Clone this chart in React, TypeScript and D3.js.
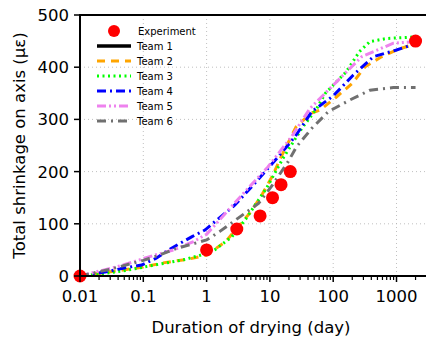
import React from "react";
import * as d3 from "d3";

const experiment: [number, number][] = [[0.01,0],[1,50],[3,90],[7,115],[11,150],[15,175],[21,200],[2000,450]];
const team1: [number, number][] = [];
const team2: [number, number][] = [[0.01,0],[0.03,8],[0.1,17],[0.2,25],[0.5,32],[1,40],[2,66],[5,123],[7.6,157],[11,192],[15,228],[26,286],[45,312],[62,318],[110,342],[200,369],[320,401],[580,420],[1000,433],[2000,445]];
const team3: [number, number][] = [[0.01,0],[0.025,5],[0.055,11],[0.15,21],[0.43,31],[1,43],[1.34,50],[2.5,75],[4.2,110],[9,170],[16,225],[32,283],[55,321],[75,350],[160,391],[260,430],[380,449],[700,455],[2000,458]];
const team4: [number, number][] = [[0.01,0],[0.026,8],[0.048,15],[0.094,21],[0.16,34],[0.25,50],[0.58,75],[0.94,88],[2.8,136],[5.8,178],[12.8,225],[25,267],[46,315],[100,345],[208,385],[430,420],[1000,433],[2000,445]];
const team5: [number, number][] = [[0.01,0],[0.048,21],[0.15,40],[0.3,50],[0.62,66],[1,80],[3.8,158],[9.3,209],[22,267],[43,321],[113,372],[282,420],[890,446],[2000,449]];
const team6: [number, number][] = [[0.01,0],[0.03,13],[0.1,30],[0.18,40],[0.34,53],[1,69],[1.6,85],[6.6,139],[10.5,171],[19.4,219],[26.5,248],[46,283],[84,315],[182,337],[381,356],[890,361],[2000,361]];

const xTicks = [0.01, 0.1, 1, 10, 100, 1000];
const xTickLabels = ["0.01", "0.1", "1", "10", "100", "1000"];
const yTicks = [0, 100, 200, 300, 400, 500];

const series = [
  { name: "Team 1", data: team1, color: "#000000", dash: "none" },
  { name: "Team 2", data: team2, color: "#ffa500", dash: "8,6" },
  { name: "Team 3", data: team3, color: "#00ff00", dash: "2,3.5" },
  { name: "Team 4", data: team4, color: "#0000ff", dash: "9,4,2,4" },
  { name: "Team 5", data: team5, color: "#ee82ee", dash: "9,3,2,3,2,3" },
  { name: "Team 6", data: team6, color: "#707070", dash: "9,5,2,5" },
];

export default function App() {
  const W = 426, H = 338;
  const left = 80, top = 15, bottom = 276;
  const x = d3.scaleLog().domain([0.01, 1000]).range([left, 396.5]);
  const y = d3.scaleLinear().domain([0, 500]).range([bottom, top]);
  const line = d3.line<[number, number]>().x(d => x(d[0])).y(d => y(d[1]));
  const minor: number[] = [];
  for (let e = -2; e <= 3; e++) for (let k = 2; k <= 9; k++) minor.push(k * Math.pow(10, e));
  const font = "DejaVu Sans, sans-serif";
  return (
    <svg width={W} height={H} style={{ position: "absolute", left: 0, top: 0, fontFamily: font }}>
      <rect width={W} height={H} fill="white" />
      <defs>
        <clipPath id="plot"><rect x={left} y={top} width={W - left} height={bottom - top} /></clipPath>
      </defs>
      {xTicks.slice(1).map(t => (
        <line key={"gx" + t} x1={x(t)} x2={x(t)} y1={top} y2={bottom} stroke="#b0b0b0" strokeWidth={0.8} strokeDasharray="1,3" />
      ))}
      {yTicks.slice(1, -1).map(t => (
        <line key={"gy" + t} x1={left} x2={W} y1={y(t)} y2={y(t)} stroke="#b0b0b0" strokeWidth={0.8} strokeDasharray="1,3" />
      ))}
      <g clipPath="url(#plot)">
        {series.filter(s => s.data.length).map(s => (
          <path key={s.name} d={line(s.data) || ""} fill="none" stroke={s.color} strokeWidth={3} strokeDasharray={s.dash} />
        ))}
      </g>
      {experiment.map((d, i) => (
        <circle key={"e" + i} cx={x(d[0])} cy={y(d[1])} r={6.5} fill="#ff0000" />
      ))}
      <line x1={left} x2={W} y1={top} y2={top} stroke="#000" strokeWidth={2} />
      <line x1={left} x2={left} y1={top - 1} y2={bottom + 1} stroke="#000" strokeWidth={2} />
      <line x1={left - 1} x2={W} y1={bottom} y2={bottom} stroke="#000" strokeWidth={2} />
      {xTicks.map((t, i) => (
        <g key={"xt" + t}>
          <line x1={x(t)} x2={x(t)} y1={bottom} y2={bottom + 6} stroke="#000" strokeWidth={1.5} />
          <text x={x(t)} y={bottom + 26} textAnchor="middle" fontSize={16.5}>{xTickLabels[i]}</text>
        </g>
      ))}
      {minor.filter(m => x(m) < W).map(m => (
        <line key={"mt" + m} x1={x(m)} x2={x(m)} y1={bottom} y2={bottom + 4} stroke="#000" strokeWidth={1.2} />
      ))}
      {yTicks.map(t => (
        <g key={"yt" + t}>
          <line x1={left} x2={left - 6} y1={y(t)} y2={y(t)} stroke="#000" strokeWidth={1.5} />
          <text x={left - 11} y={y(t) + 6} textAnchor="end" fontSize={16.5}>{t}</text>
        </g>
      ))}
      <text x={251} y={333} textAnchor="middle" fontSize={16.5}>Duration of drying (day)</text>
      <text transform={`translate(25,${(top + bottom) / 2}) rotate(-90)`} textAnchor="middle" fontSize={16.5}>Total shrinkage on axis (με)</text>
      <g fontSize={10}>
        <circle cx={114} cy={31} r={6} fill="#ff0000" />
        <text x={138} y={35}>Experiment</text>
        {series.map((s, i) => (
          <g key={"lg" + s.name}>
            <line x1={97} x2={131} y1={46 + i * 15} y2={46 + i * 15} stroke={s.color} strokeWidth={s.name === "Team 1" ? 3.5 : 3} strokeDasharray={s.dash} />
            <text x={137} y={49.5 + i * 15}>{s.name}</text>
          </g>
        ))}
      </g>
    </svg>
  );
}
